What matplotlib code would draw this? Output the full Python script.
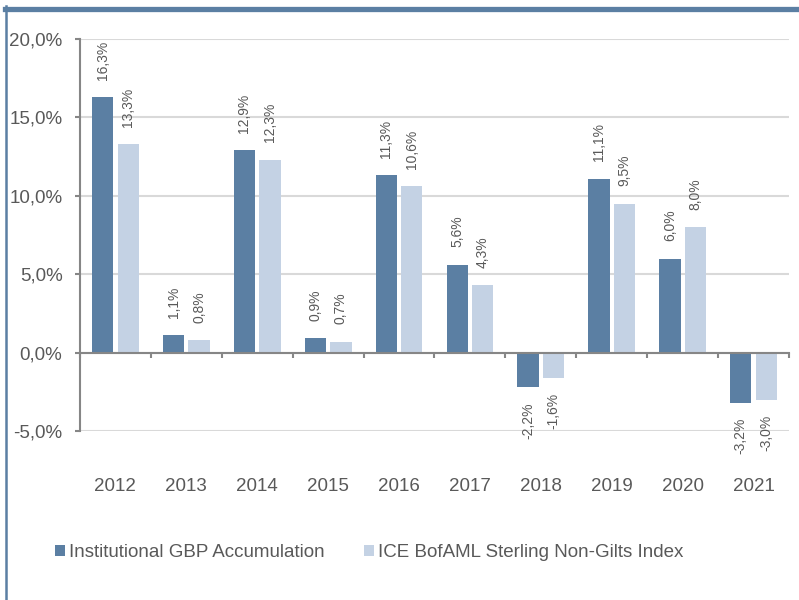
import numpy as np
import matplotlib.pyplot as plt
from matplotlib.lines import Line2D
from matplotlib.patches import Patch
import matplotlib.transforms as mtransforms

plt.rcParams['font.family'] = ['Liberation Sans', 'DejaVu Sans']

years = ['2012', '2013', '2014', '2015', '2016', '2017', '2018', '2019', '2020', '2021']
fund = [16.3, 1.1, 12.9, 0.9, 11.3, 5.6, -2.2, 11.1, 6.0, -3.2]
index = [13.3, 0.8, 12.3, 0.7, 10.6, 4.3, -1.6, 9.5, 8.0, -3.0]
series_names = ['Institutional GBP Accumulation', 'ICE BofAML Sterling Non-Gilts Index']
yticks = [-5, 0, 5, 10, 15, 20]

dark = '#5b7fa3'
light = '#c4d2e4'
txt = '#595959'
axcol = '#868686'

fig = plt.figure(figsize=(7.99, 6.0), dpi=100)
ax = fig.add_axes([0.1001, 0.2817, 0.8874, 0.6533])

x = np.arange(len(years))
w = 0.30
off = 0.18
ax.bar(x - off, fund, w, color=dark, zorder=3)
ax.bar(x + off, index, w, color=light, zorder=3)

ax.set_xlim(-0.5, len(years) - 0.5)
ax.set_ylim(-5, 20)
ax.set_yticks(yticks)
ax.set_yticklabels([f'{v:.1f}%'.replace('.', ',') for v in yticks], color=txt, fontsize=13.5)
ax.yaxis.grid(True, color='#d9d9d9', lw=1.5, zorder=0)
ax.set_axisbelow(True)

for s in ['top', 'right']:
    ax.spines[s].set_visible(False)
ax.spines['left'].set_color(axcol)
ax.spines['left'].set_linewidth(1.5)
ax.spines['bottom'].set_position(('data', 0))
ax.spines['bottom'].set_color(axcol)
ax.spines['bottom'].set_linewidth(1.5)
ax.spines['bottom'].set_zorder(4)
ax.tick_params(axis='y', length=3.6, width=1.5, color=axcol, pad=9)
ax.set_xticks(np.arange(len(years) + 1) - 0.5)
ax.set_xticklabels([])
ax.tick_params(axis='x', length=3.6, width=1.5, color=axcol)

trans = mtransforms.blended_transform_factory(ax.transData, fig.transFigure)
for i, y in enumerate(years):
    ax.text(i, 0.189, y, transform=trans, ha='center', va='center', fontsize=13.5, color=txt)

for vals, o in [(fund, -off), (index, off)]:
    for i, v in enumerate(vals):
        lab = f'{v:.1f}%'.replace('.', ',')
        if v >= 0:
            ax.annotate(lab, (i + o, v), xytext=(0, 12.5), textcoords='offset points',
                        rotation=90, ha='center', va='bottom', fontsize=10, color=txt)
        else:
            ax.annotate(lab, (i + o, v), xytext=(0, -11), textcoords='offset points',
                        rotation=90, ha='center', va='top', fontsize=10, color=txt)

handles = [Patch(facecolor=dark), Patch(facecolor=light)]
fig.legend(handles, series_names, loc='center left', bbox_to_anchor=(0.0688, 0.079),
           ncol=2, frameon=False, fontsize=13.5, labelcolor=txt,
           handlelength=0.55, handleheight=0.55, handletextpad=0.2, columnspacing=2.1,
           borderaxespad=0, borderpad=0)

# frame lines
fig.add_artist(Line2D([0.006, 1.0], [0.9855, 0.9855], color=dark, lw=3.8, transform=fig.transFigure))
fig.add_artist(Line2D([0.0075, 0.0075], [0.0, 0.99], color=dark, lw=1.8, transform=fig.transFigure))

fig.savefig('out.png', dpi=100)
